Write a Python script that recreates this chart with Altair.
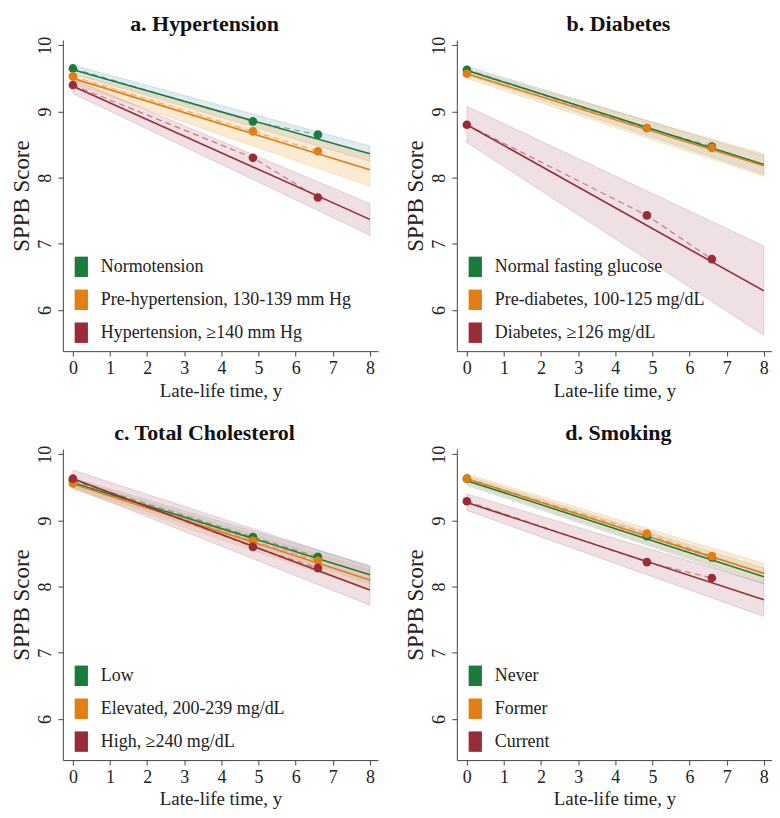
import altair as alt
import pandas as pd

# ---------------- data ----------------
TIME_OBS = [0, 4.85, 6.6]
TIME_FIT = [0, 8]
X_TICKS = [0, 1, 2, 3, 4, 5, 6, 7, 8]
Y_TICKS = [6, 7, 8, 9, 10]
GROUPS = [0, 1, 2]

TITLES = ["a. Hypertension", "b. Diabetes", "c. Total Cholesterol", "d. Smoking"]

LABELS_A = ["Normotension", "Pre-hypertension, 130-139 mm Hg", "Hypertension, ≥140 mm Hg"]
OBS_A = [[9.65, 8.85, 8.65], [9.53, 8.70, 8.40], [9.40, 8.30, 7.70]]
FIT_A = [[9.63, 8.36], [9.50, 8.12], [9.38, 7.37]]
LO_A = [[9.57, 8.25], [9.42, 7.87], [9.27, 7.13]]
HI_A = [[9.70, 8.48], [9.58, 8.37], [9.49, 7.61]]

LABELS_B = ["Normal fasting glucose", "Pre-diabetes, 100-125 mg/dL", "Diabetes, ≥126 mg/dL"]
OBS_B = [[9.63, 8.75, 8.47], [9.57, 8.75, 8.45], [8.80, 7.43, 6.77]]
FIT_B = [[9.62, 8.20], [9.57, 8.18], [8.80, 6.29]]
LO_B = [[9.55, 8.05], [9.50, 8.02], [8.53, 5.62]]
HI_B = [[9.68, 8.33], [9.64, 8.36], [9.08, 6.97]]

LABELS_C = ["Low", "Elevated, 200-239 mg/dL", "High, ≥240 mg/dL"]
OBS_C = [[9.60, 8.75, 8.45], [9.56, 8.69, 8.39], [9.63, 8.60, 8.28]]
FIT_C = [[9.57, 8.18], [9.55, 8.10], [9.63, 7.95]]
LO_C = [[9.50, 8.05], [9.47, 7.95], [9.50, 7.72]]
HI_C = [[9.64, 8.32], [9.62, 8.25], [9.76, 8.30]]

LABELS_D = ["Never", "Former", "Current"]
OBS_D = [[9.63, 8.76, 8.44], [9.63, 8.80, 8.46], [9.29, 8.37, 8.13]]
FIT_D = [[9.60, 8.15], [9.63, 8.20], [9.27, 7.80]]
LO_D = [[9.53, 8.04], [9.56, 8.07], [9.15, 7.55]]
HI_D = [[9.67, 8.28], [9.70, 8.35], [9.40, 8.05]]

COLORS = ["#1b7b3a", "#e27f12", "#9a2c37"]
BAND_FILL = ["#a9c4dc", "#f7c586", "#d3a8b2"]

FONT = "Liberation Serif"
W, H = 316, 312
X_DOMAIN = [-0.27, 8.22]
Y_DOMAIN = [5.38, 10.08]


def panel(title, labels, obs, fit, lo, hi, dx):
    obs_df = pd.DataFrame(
        [
            {"t": t, "v": v, "g": labels[i], "i": i}
            for i, s in enumerate(obs)
            for t, v in zip(TIME_OBS, s)
        ]
    )
    fit_df = pd.DataFrame(
        [
            {"t": t, "v": f, "lo": l, "hi": h, "g": labels[i], "i": i}
            for i in range(3)
            for t, f, l, h in zip(TIME_FIT, fit[i], lo[i], hi[i])
        ]
    )
    xs = alt.Scale(domain=X_DOMAIN, nice=False, zero=False)
    ys = alt.Scale(domain=Y_DOMAIN, nice=False, zero=False)
    x = alt.X(
        "t:Q",
        scale=xs,
        axis=alt.Axis(
            values=X_TICKS, title="Late-life time, y", format="d", titleFontSize=19, titlePadding=4
        ),
    )
    line_scale = alt.Scale(domain=GROUPS, range=COLORS)

    band = (
        alt.Chart(fit_df)
        .mark_area(fillOpacity=0.36, strokeWidth=0.8, strokeOpacity=0.22)
        .encode(
            x=x,
            y=alt.Y(
                "lo:Q",
                scale=ys,
                axis=alt.Axis(
                    values=Y_TICKS,
                    format="d",
                    labelAngle=-90,
                    title="SPPB Score",
                    titleFontSize=23,
                    titlePadding=3,
                ),
            ),
            y2="hi:Q",
            fill=alt.Fill("i:N", scale=alt.Scale(domain=GROUPS, range=BAND_FILL), legend=None),
            stroke=alt.Stroke("i:N", scale=line_scale, legend=None),
        )
    )
    dashed = (
        alt.Chart(obs_df)
        .mark_line(strokeDash=[6, 4], strokeWidth=1.2, opacity=0.55)
        .encode(x=x, y=alt.Y("v:Q", scale=ys), stroke=alt.Stroke("i:N", scale=line_scale, legend=None))
    )
    fitted = (
        alt.Chart(fit_df)
        .mark_line(strokeWidth=1.6)
        .encode(x=x, y=alt.Y("v:Q", scale=ys), stroke=alt.Stroke("i:N", scale=line_scale, legend=None))
    )
    pts = (
        alt.Chart(obs_df)
        .mark_point(filled=True, size=75, opacity=1)
        .encode(
            x=x,
            y=alt.Y("v:Q", scale=ys),
            color=alt.Color(
                "g:N",
                scale=alt.Scale(domain=labels, range=COLORS),
                legend=alt.Legend(
                    title=None,
                    orient="bottom-left",
                    offset=8,
                    padding=0,
                    symbolType="M-0.65,-1H0.65V1H-0.65Z",
                    symbolSize=420,
                    symbolStrokeWidth=0,
                    symbolOpacity=1,
                    rowPadding=12,
                    labelOffset=9,
                    labelFont=FONT,
                    labelFontSize=18,
                    labelColor="#222222",
                    labelLimit=400,
                ),
            ),
        )
    )
    return alt.layer(band, dashed, fitted, pts).properties(
        width=W,
        height=H,
        title=alt.TitleParams(
            text=title,
            font=FONT,
            fontSize=22,
            fontWeight="bold",
            color="#111111",
            anchor="middle",
            frame="group",
            offset=0,
            dx=dx,
        ),
    )


pa = panel(TITLES[0], LABELS_A, OBS_A, FIT_A, LO_A, HI_A, -16)
pb = panel(TITLES[1], LABELS_B, OBS_B, FIT_B, LO_B, HI_B, 4)
pc = panel(TITLES[2], LABELS_C, OBS_C, FIT_C, LO_C, HI_C, -16)
pd_ = panel(TITLES[3], LABELS_D, OBS_D, FIT_D, LO_D, HI_D, 4)

RES = dict(color="independent", fill="independent", stroke="independent")
row1 = alt.hconcat(pa, pb, spacing=27).resolve_scale(**RES).resolve_legend(color="independent")
row2 = alt.hconcat(pc, pd_, spacing=27).resolve_scale(**RES).resolve_legend(color="independent")

chart = (
    alt.vconcat(row1, row2, spacing=22)
    .resolve_scale(**RES)
    .resolve_legend(color="independent")
    .properties(padding={"top": 4, "left": 3, "right": 0, "bottom": 0})
    .configure_view(stroke=None)
    .configure_axis(
        grid=False,
        labelFont=FONT,
        labelFontSize=18,
        labelColor="#222222",
        titleFont=FONT,
        titleFontSize=18,
        titleFontWeight="normal",
        titleColor="#222222",
        domainColor="#444444",
        tickColor="#444444",
        tickSize=5,
        labelPadding=3,
    )
)

chart.save("out.html", embed_options={"renderer": "svg", "actions": False})
